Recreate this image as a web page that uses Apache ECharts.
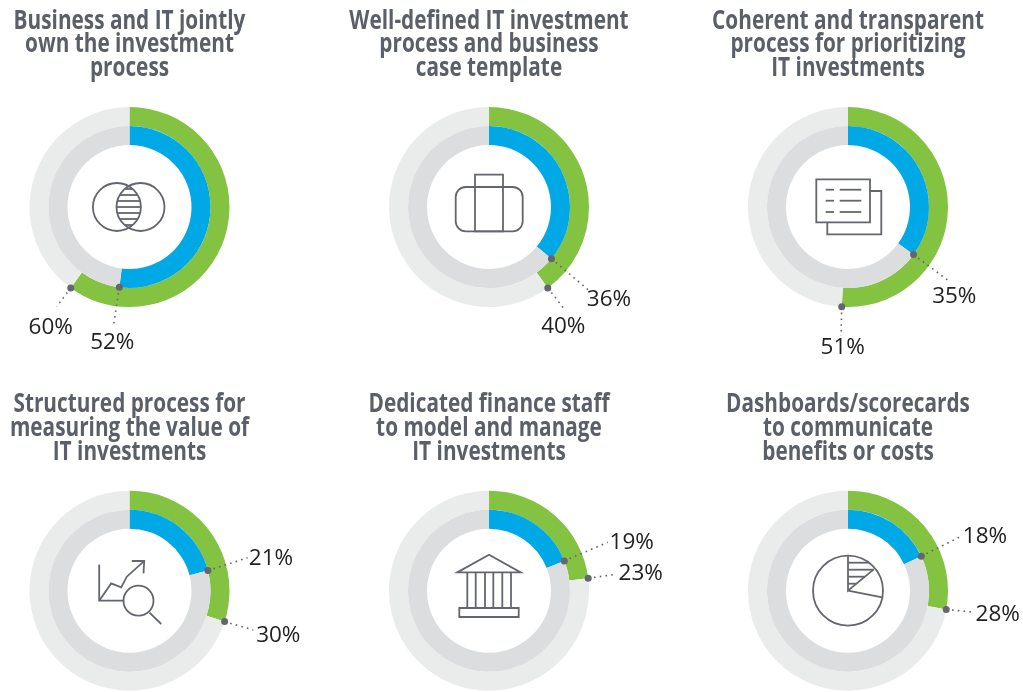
<!DOCTYPE html>
<html>
<head>
<meta charset="utf-8">
<style>html,body{margin:0;padding:0;background:#fff}#c{width:1023px;height:692px}</style>
<script src="https://cdn.jsdelivr.net/npm/echarts@6/dist/echarts.min.js"></script>
</head>
<body>
<div id="c"></div>
<script>
// ---- data ----
const titles = [
  ["Business and IT jointly", "own the investment", "process"],
  ["Well-defined IT investment", "process and business", "case template"],
  ["Coherent and transparent", "process for prioritizing", "IT investments"],
  ["Structured process for", "measuring the value of", "IT investments"],
  ["Dedicated finance staff", "to model and manage", "IT investments"],
  ["Dashboards/scorecards", "to communicate", "benefits or costs"]
];
const outerValues = [60, 40, 51, 30, 23, 28];
const innerValues = [52, 36, 35, 21, 19, 18];

// ---- layout ----
const centersX = [129.5, 489, 848, 129.5, 489, 848];
const centersY = [207, 207, 207, 590.7, 590.7, 590.7];
const titleY = [[21, 44.5, 68], [21, 44.5, 68], [21, 44.5, 68], [404, 428, 452], [404, 428, 452], [404, 428, 452]];
// leader end and label centre, page pixels
const outerLeader = [[56.7,306.7,50.7,327.5],[565,310,563.3,327],[841,336,842.7,347.5],[253.3,630,278.3,636],[616.7,574.3,640.7,574],[975,612.3,997.7,615]];
const innerLeader = [[113.3,327,112.3,342.5],[588.3,290,609,300],[950.7,282.3,954.3,296.5],[247.7,557.7,271,558.5],[607.7,542.3,631.7,543],[961.7,536,985,536.8]];
const R_OUT = 100, R_MID = 81, R_IN = 62;
const GREEN = '#84c341', BLUE = '#00a9e6', GREY_OUT = '#eaebeb', GREY_IN = '#dcddde', INK = '#63666e', TITLE = '#5b5f67', LABEL = '#222';

function ring(i, value, rIn, rOut, color, rest) {
  return { type: 'pie', silent: true, animation: false, startAngle: 90, clockwise: true,
    center: [centersX[i], centersY[i]], radius: [rIn, rOut], label: { show: false }, labelLine: { show: false },
    emphasis: { disabled: true }, itemStyle: { borderWidth: 0 },
    data: [ { value: value, itemStyle: { color: color } }, { value: 100 - value, itemStyle: { color: rest } } ] };
}
function toPolar(i, x, y) {
  const dx = x - centersX[i], dy = y - centersY[i];
  let a = Math.atan2(dx, -dy) / (2 * Math.PI) * 100;
  if (a < 0) a += 100;
  return [Math.hypot(dx, dy), a];
}
function leader(i, value, r, l) {
  return { type: 'line', coordinateSystem: 'polar', polarIndex: i, silent: true, animation: false, clip: false, z: 5,
    lineStyle: { color: INK, width: 1.6, type: [1.6, 4.2] }, itemStyle: { color: INK, opacity: 1 }, showSymbol: true,
    showAllSymbol: true, symbol: 'circle', emphasis: { disabled: true },
    data: [
      { value: [r, value], symbolSize: 7, label: { show: false } },
      { value: toPolar(i, l[0], l[1]), symbolSize: 0.01, label: { show: true, position: 'inside', offset: [l[2] - l[0], l[3] - l[1]],
          formatter: value + '%', fontFamily: 'Open Sans', fontSize: 22.5, color: LABEL } }
    ] };
}

const series = [], polar = [], angleAxis = [], radiusAxis = [], graphic = [];
outerValues.forEach((v, i) => {
  series.push(ring(i, v, R_MID, R_OUT, GREEN, GREY_OUT));
  series.push(ring(i, innerValues[i], R_IN, R_MID, BLUE, GREY_IN));
  polar.push({ center: [centersX[i], centersY[i]], radius: 170 });
  angleAxis.push({ polarIndex: i, type: 'value', min: 0, max: 100, startAngle: 90, clockwise: true, show: false });
  radiusAxis.push({ polarIndex: i, type: 'value', min: 0, max: 170, show: false });
});
outerValues.forEach((v, i) => {
  series.push(leader(i, v, R_OUT, outerLeader[i]));
  series.push(leader(i, innerValues[i], R_MID, innerLeader[i]));
});

// ---- titles ----
titles.forEach((lines, i) => lines.forEach((t, k) => {
  graphic.push({ type: 'text', x: centersX[i], y: titleY[i][k], scaleX: 0.77, silent: true,
    style: { text: t, align: 'center', verticalAlign: 'middle', fontFamily: 'Open Sans', fontWeight: 'bold', fontSize: 27, fill: TITLE } });
}));

// ---- icons (offsets from each ring centre) ----
const st = { stroke: INK, lineWidth: 1.8, fill: 'none' };
const pl = pts => ({ type: 'polyline', shape: { points: pts }, style: st });
const ln = (a, b, c, d, w) => ({ type: 'line', shape: { x1: a, y1: b, x2: c, y2: d }, style: { ...st, lineWidth: w || 1.8 } });
const rc = (a, b, c, d, r) => ({ type: 'rect', shape: { x: a, y: b, width: c - a, height: d - b, r: r || 0 }, style: st });
const ci = (a, b, r) => ({ type: 'circle', shape: { cx: a, cy: b, r: r }, style: st });

const lens = [-18, -12, -6, 0, 6, 12, 18].map(y => { const h = Math.sqrt(24 * 24 - y * y) - 11.8; return ln(-0.8 - h, y, -0.8 + h, y); });
const icons = [
  [ci(-12.6, 0, 24), ci(11, 0, 24), ...lens],
  [rc(-33.3, -20, 33.7, 24.3, 10), rc(-14, -32.3, 14, 24.3)],
  [rc(-31.7, -27.7, 22, 15.3), pl([[22, -16], [33.3, -16], [33.3, 27.3], [-20.7, 27.3], [-20.7, 15.3]]),
    ln(-22.3, -17.3, -14, -17.3), ln(-8.3, -17.3, 13.3, -17.3), ln(-22.3, -6.3, -14, -6.3), ln(-8.3, -6.3, 13.3, -6.3), ln(-22.3, 5, -14, 5), ln(-8.3, 5, 13.3, 5)],
  [pl([[-30.3, -26.3], [-30.3, 10], [-6, 10]]), pl([[-30.3, 10], [-18.3, -7.3], [-8.3, -3.3], [-2.7, -14], [14, -29]]),
    pl([[2.3, -29.7], [14.7, -29.7], [14, -17.3]]), ci(9, 10, 15), ln(20, 22, 31.7, 33.3)],
  [{ type: 'polygon', shape: { points: [[-31.7, -18.3], [0, -36], [31.7, -18.3]] }, style: st },
    ...[-21.7, -13.3, -4, 4.3, 13.3, 22].map(x => ln(x, -18.3, x, 17.3)), rc(-29.7, 17.3, 29.7, 26.3)],
  [ci(0, 0, 35), pl([[0, -35], [0, 0], [25.7, -21.3]]), ln(0, 0, 34.3, 6.7), ln(0, -28, 21, -28), ln(0, -21, 25.7, -21), ln(0, -14, 16.9, -14), ln(0, -7, 8.4, -7)]
];
icons.forEach((children, i) => graphic.push({ type: 'group', x: centersX[i], y: centersY[i], silent: true, children: children }));

const chart = echarts.init(document.getElementById('c'), null, { renderer: 'canvas' });
chart.setOption({ animation: false, backgroundColor: '#fff', tooltip: { show: false }, polar, angleAxis, radiusAxis, series, graphic });
</script>
</body>
</html>
